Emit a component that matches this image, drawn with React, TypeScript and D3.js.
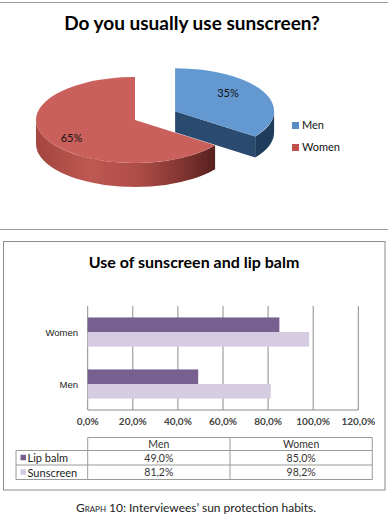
import * as d3 from 'd3';

const pieLabels = ['Men', 'Women'];
const pieValues = [35, 65];

const barCategories = ['Women', 'Men'];
const barSeries = ['Lip balm', 'Sunscreen'];
const lipBalm = [85.0, 49.0];
const sunscreen = [98.2, 81.2];
const xTicks = [0, 20, 40, 60, 80, 100, 120];
const tableColumns = ['Men', 'Women'];

const pieTop = ['#6398d0', '#c9605b'];
const pieLegend = ['#5b8bc5', '#c0504d'];
const barColors = ['#77608f', '#d6cce2'];

const fmt = (v: number) => v.toFixed(1).replace('.', ',') + '%';

const App = () => {
  // ---- 3D pie ----
  const cx = 135, cy = 120, rx = 99, ry = 43, depth = 24;
  const slices = d3.pie<number>().sort(null).startAngle(0).endAngle(2 * Math.PI)(pieValues);

  const pt = (ox: number, oy: number, a: number, k = 1): [number, number] =>
    [ox + rx * k * Math.sin(a), oy - ry * k * Math.cos(a)];

  const pieParts = slices.map((s, i) => {
    const mid = (s.startAngle + s.endAngle) / 2;
    const E = i === 0 ? 45 : 0;
    const ox = cx + E * Math.sin(mid);
    const oy = cy - E * Math.cos(mid) * (ry / rx);
    const d = i === 0 ? depth - 3 : depth;
    const large = s.endAngle - s.startAngle > Math.PI ? 1 : 0;
    const [x0, y0] = pt(ox, oy, s.startAngle);
    const [x1, y1] = pt(ox, oy, s.endAngle);
    const top = `M${ox},${oy}L${x0},${y0}A${rx},${ry} 0 ${large} 1 ${x1},${y1}Z`;

    // visible outer wall (front half: PI/2..3PI/2)
    const b0 = Math.max(s.startAngle, Math.PI / 2);
    const b1 = Math.min(s.endAngle, (3 * Math.PI) / 2);
    let wall = '';
    if (b1 > b0) {
      const [p0x, p0y] = pt(ox, oy, b0);
      const [p1x, p1y] = pt(ox, oy, b1);
      const lg = b1 - b0 > Math.PI ? 1 : 0;
      wall = `M${p0x},${p0y}A${rx},${ry} 0 ${lg} 1 ${p1x},${p1y}L${p1x},${p1y + d}A${rx},${ry} 0 ${lg} 0 ${p0x},${p0y + d}Z`;
    }
    // cut face at end angle if it faces the viewer
    let cut = '';
    if (Math.sin(s.endAngle) > 0.01 && s.endAngle < 2 * Math.PI - 0.01) {
      cut = `M${ox},${oy}L${x1},${y1}L${x1},${y1 + d}L${ox},${oy + d}Z`;
    }
    const k = i === 0 ? 0.6 : 0.72;
    const [lx, ly] = pt(ox, oy, mid, k);
    return { top, wall, cut, lx, ly: ly + (i === 0 ? -7 : 3), i, value: s.data };
  });

  // ---- bar chart ----
  const x = d3.scaleLinear().domain([0, 120]).range([87.7, 358.3]);
  const y = d3.scaleBand<string>().domain(barCategories).range([306, 410]).paddingInner(0.44).paddingOuter(0.22);
  const yInner = d3.scaleBand<string>().domain(barSeries).range([0, y.bandwidth()]);
  const seriesValues = [lipBalm, sunscreen];

  const tLeft = 16, tMid = x(0), tRight = 372.3;
  const colW = (tRight - tMid) / tableColumns.length;
  const rowY = [437.5, 450.5, 465, 479.5];
  const grid = '#8c8c8c';
  const tline = '#9a9a9a';

  return (
    <svg width={389} height={520} style={{ position: 'absolute', left: 0, top: 0, background: '#fff' }}>
      <defs>
        <linearGradient id="wallRed" gradientUnits="userSpaceOnUse" x1={36} y1={0} x2={216} y2={0}>
          <stop offset="0" stopColor="#a4453f" />
          <stop offset="0.3" stopColor="#bd5852" />
          <stop offset="0.55" stopColor="#b04e49" />
          <stop offset="0.8" stopColor="#843632" />
          <stop offset="1" stopColor="#55201e" />
        </linearGradient>
      </defs>

      {/* top panel */}
      <line x1={0} x2={388} y1={2.5} y2={2.5} stroke="#999" strokeWidth={1} />
      <line x1={0} x2={388} y1={229.5} y2={229.5} stroke="#999" strokeWidth={1} />
      <text x={192} y={30} textAnchor="middle" fontFamily="Lato" fontWeight="bold" fontSize={19} fill="#000">
        Do you usually use sunscreen?
      </text>

      {pieParts.map(p => (
        <g key={p.i}>
          {p.cut && <path d={p.cut} fill={p.i === 0 ? '#2a4a70' : '#7d3330'} />}
          {p.wall && <path d={p.wall} fill={p.i === 0 ? '#203c5c' : 'url(#wallRed)'} />}
          <path d={p.top} fill={pieTop[p.i]} />
          <text x={p.lx} y={p.ly} textAnchor="middle" dominantBaseline="central" fontFamily="Lato" fontSize={11} fill="#111">
            {p.value}%
          </text>
        </g>
      ))}

      {pieLabels.map((l, i) => (
        <g key={l} transform={`translate(292,${122 + i * 22})`}>
          <rect width={7} height={7} fill={pieLegend[i]} />
          <text x={10} y={7} fontFamily="Lato" fontSize={11} fill="#111">{l}</text>
        </g>
      ))}

      {/* bottom panel */}
      <rect x={3.5} y={241.5} width={381.5} height={248.5} fill="none" stroke="#8c8c8c" strokeWidth={1} />
      <text x={194} y={268} textAnchor="middle" fontFamily="Lato" fontWeight="bold" fontSize={16} fill="#000">
        Use of sunscreen and lip balm
      </text>

      {xTicks.map(t => (
        <g key={t}>
          <line x1={x(t)} x2={x(t)} y1={306} y2={410} stroke={grid} strokeWidth={1} />
          <text x={x(t)} y={425} textAnchor="middle" fontFamily="Lato" fontWeight="bold" fontSize={10} fill="#444">
            {fmt(t)}
          </text>
        </g>
      ))}
      <line x1={x(0)} x2={x(120)} y1={410} y2={410} stroke={grid} strokeWidth={1} />

      {barCategories.map((c, ci) => (
        <g key={c}>
          {barSeries.map((s, si) => (
            <rect key={s} x={x(0)} y={(y(c) ?? 0) + (yInner(s) ?? 0)} width={x(seriesValues[si][ci]) - x(0)}
              height={yInner.bandwidth()} fill={barColors[si]} />
          ))}
          <text x={78} y={(y(c) ?? 0) + y.bandwidth() / 2} textAnchor="end" dominantBaseline="central"
            fontFamily="Liberation Sans" fontSize={9.5} fill="#222">{c}</text>
        </g>
      ))}

      {/* data table */}
      <g stroke={tline} strokeWidth={1} fill="none">
        <line x1={tMid} x2={tRight} y1={rowY[0]} y2={rowY[0]} />
        {rowY.slice(1).map(r => <line key={r} x1={tLeft} x2={tRight} y1={r} y2={r} />)}
        <line x1={tLeft} x2={tLeft} y1={rowY[1]} y2={rowY[3]} />
        {[0, 1, 2].map(j => (
          <line key={j} x1={tMid + j * colW} x2={tMid + j * colW} y1={rowY[0]} y2={rowY[3]} />
        ))}
      </g>
      {tableColumns.map((c, j) => (
        <text key={c} x={tMid + (j + 0.5) * colW} y={(rowY[0] + rowY[1]) / 2} textAnchor="middle"
          dominantBaseline="central" fontFamily="Lato" fontSize={10.5} fill="#333">{c}</text>
      ))}
      {barSeries.map((s, si) => {
        const cyRow = (rowY[si + 1] + rowY[si + 2]) / 2;
        // table columns are Men, Women; series arrays are Women, Men
        return (
          <g key={s}>
            <rect x={20.5} y={cyRow - 3} width={5.5} height={5.5} fill={barColors[si]} />
            <text x={27.5} y={cyRow} dominantBaseline="central" fontFamily="Lato" fontSize={11} fill="#222">{s}</text>
            {tableColumns.map((c, j) => (
              <text key={c} x={tMid + (j + 0.5) * colW} y={cyRow} textAnchor="middle" dominantBaseline="central"
                fontFamily="Lato" fontSize={10.5} fill="#333">
                {fmt(seriesValues[si][barCategories.indexOf(c)])}
              </text>
            ))}
          </g>
        );
      })}

      <text x={196} y={512} textAnchor="middle" fontFamily="Lato" fontSize={12} fill="#222">
        <tspan style={{ fontVariant: 'small-caps' }}>Graph 10</tspan>: Interviewees’ sun protection habits.
      </text>
    </svg>
  );
};

export default App;
